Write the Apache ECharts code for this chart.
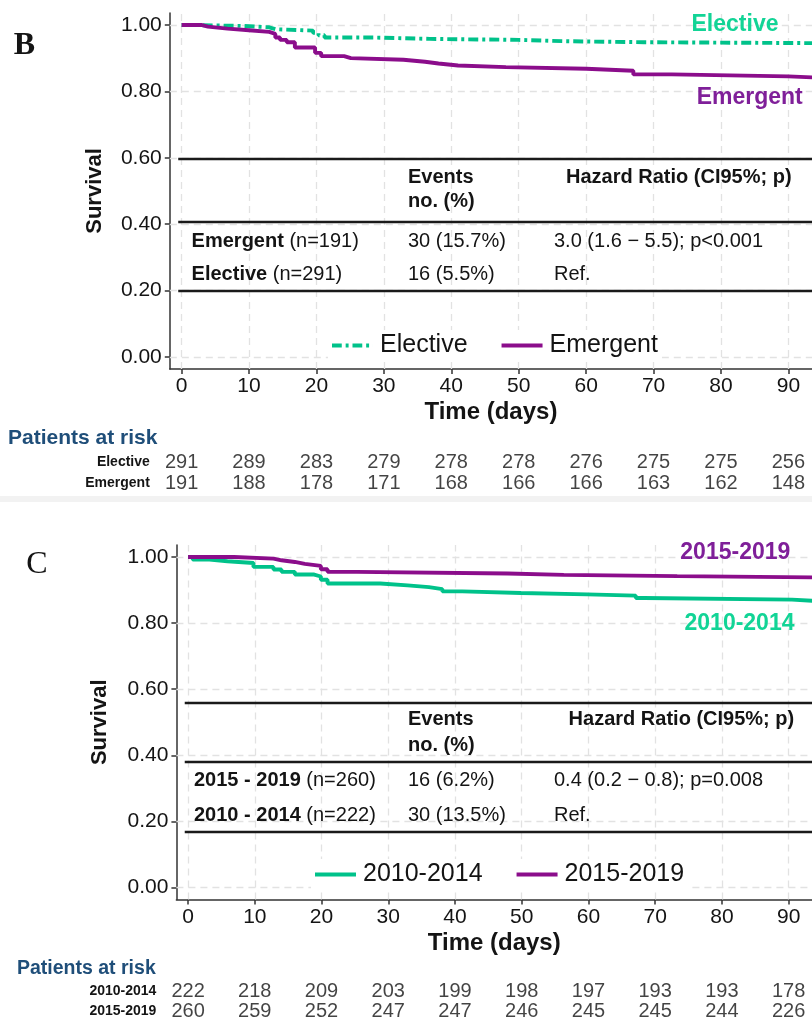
<!DOCTYPE html>
<html>
<head>
<meta charset="utf-8">
<script src="https://cdn.jsdelivr.net/npm/echarts@6/dist/echarts.min.js"></script>
<style>
html,body{margin:0;padding:0;background:#fff;}
#chart{width:812px;height:1021px;}
</style>
</head>
<body>
<div id="chart"></div>
<script>
// ---- shared axis ticks ----
const xTicks = [0, 10, 20, 30, 40, 50, 60, 70, 80, 90];
const yTicks = [0, 0.2, 0.4, 0.6, 0.8, 1.0];

// ---- Panel B: Kaplan-Meier, elective vs emergent ----
const electiveTime = [0, 1, 9, 13, 14, 19.5, 20.3, 21.2, 28.5, 36.8, 50, 57, 68.6, 96];
const electiveSurv = [1, 0.997, 0.993, 0.987, 0.983, 0.976, 0.969, 0.962, 0.958, 0.955, 0.951, 0.948, 0.945, 0.945];
const emergentTime = [0, 2.9, 3.9, 6.8, 10, 13, 13.9, 14.6, 15.6, 16.8, 19.8, 20.7, 24.1, 25.1, 32.9, 36.1, 38.1, 41, 48.1, 60, 67, 72.7, 90, 96];
const emergentSurv = [1, 0.995, 0.989, 0.984, 0.979, 0.973, 0.962, 0.955, 0.948, 0.932, 0.916, 0.906, 0.9, 0.895, 0.889, 0.884, 0.878, 0.873, 0.868, 0.862, 0.851, 0.845, 0.84, 0.84];
const riskTimes = [0, 10, 20, 30, 40, 50, 60, 70, 80, 90];
const riskElective = [291, 289, 283, 279, 278, 278, 276, 275, 275, 256];
const riskEmergent = [191, 188, 178, 171, 168, 166, 166, 163, 162, 148];

// ---- Panel C: Kaplan-Meier, 2010-2014 vs 2015-2019 ----
const earlyTime = [0, 0.7, 3.2, 5.9, 9.8, 12.8, 14, 16, 18.9, 19.9, 20.9, 28.8, 32.9, 36.1, 38.1, 41.1, 49.9, 59.8, 67.1, 68.3, 90.5, 96];
const earlySurv = [1, 0.992, 0.987, 0.982, 0.97, 0.962, 0.955, 0.947, 0.941, 0.931, 0.92, 0.914, 0.909, 0.903, 0.896, 0.891, 0.887, 0.883, 0.876, 0.871, 0.865, 0.865];
const lateTime = [0, 6.9, 12.8, 14, 16, 17.5, 19.9, 20.9, 25.3, 47.9, 56.3, 73.3, 96];
const lateSurv = [1, 0.995, 0.99, 0.985, 0.979, 0.973, 0.963, 0.955, 0.95, 0.946, 0.942, 0.938, 0.938];
const risk2010 = [222, 218, 209, 203, 199, 198, 197, 193, 193, 178];
const risk2015 = [260, 259, 252, 247, 247, 246, 245, 245, 244, 226];

// table rule heights (survival units) and left edge (days)
const tableRulesB = [0.598, 0.408, 0.198];
const tableRulesC = [0.56, 0.38, 0.168];
const tableLeft = -0.5;

const FONT = '"Liberation Sans", Arial, Helvetica, sans-serif';
const GREEN = '#00c28a';
const PURPLE = '#8b0d8b';
const GREEN_TXT = '#12d496';
const PURPLE_TXT = '#7f1f99';
const INK = '#141414';
const X_MIN = -1.75, X_MAX = 93.5, Y_MIN = -0.036, Y_MAX = 1.036;

// legend swatches: dash-dot bar and solid bar
const ICON_DASHDOT = 'path://M0 0h10v4h-10zM14 0h3v4h-3zM21 0h10v4h-10zM35 0h3v4h-3zM42 0h0.01v4h-0.01z';
const ICON_SOLID = 'path://M0 0h42v4h-42z';

const zip = (a, b) => a.map((v, i) => [v, b[i]]);

const mainGrids = [
  { left: 169.8, top: 13, width: 650.5, height: 355.9 },
  { left: 176.4, top: 545.1, width: 645.8, height: 354.3 }
];
const riskGrids = [
  { left: 169.8, top: 451.5, width: 650.5, height: 42 },
  { left: 176.4, top: 981.5, width: 645.8, height: 42 }
];
const grid = mainGrids.concat(riskGrids);

function mainX(g, gap) {
  return {
    gridIndex: g, type: 'value', min: X_MIN, max: X_MAX,
    axisLine: { show: true, onZero: false, lineStyle: { color: '#333', width: 1.5 } },
    axisTick: { show: true, customValues: xTicks, length: 5, lineStyle: { color: '#333', width: 1.5 } },
    axisLabel: { customValues: xTicks, fontSize: 21, color: INK, fontFamily: FONT, margin: 7 },
    splitLine: { show: false },
    name: 'Time (days)', nameLocation: 'middle', nameGap: gap,
    nameTextStyle: { fontSize: 24, fontWeight: 'bold', color: INK, fontFamily: FONT }
  };
}
function mainY(g, gap) {
  return {
    gridIndex: g, type: 'value', min: Y_MIN, max: Y_MAX,
    axisLine: { show: true, onZero: false, lineStyle: { color: '#333', width: 1.5 } },
    axisTick: { show: true, customValues: yTicks, length: 5, lineStyle: { color: '#333', width: 1.5 } },
    axisLabel: { customValues: yTicks, formatter: v => v.toFixed(2), fontSize: 21, color: INK, fontFamily: FONT, margin: 8 },
    splitLine: { show: false },
    name: 'Survival', nameLocation: 'middle', nameRotate: 90, nameGap: gap,
    nameTextStyle: { fontSize: 22, fontWeight: 'bold', color: INK, fontFamily: FONT }
  };
}
function riskX(g) {
  return { gridIndex: g, type: 'value', min: X_MIN, max: X_MAX, show: false };
}
function riskY(g, rows) {
  return {
    gridIndex: g, type: 'category', data: rows, inverse: true,
    axisLine: { show: false }, axisTick: { show: false }, splitLine: { show: false },
    axisLabel: { fontSize: 14, fontWeight: 'bold', color: INK, fontFamily: FONT, margin: 20 }
  };
}

function gridLines(g) {
  return {
    type: 'line', xAxisIndex: g, yAxisIndex: g, data: [], z: 1, silent: true,
    markLine: {
      silent: true, symbol: 'none', label: { show: false },
      lineStyle: { color: '#e2e2e2', type: [7, 5], width: 1.3 },
      data: xTicks.map(v => ({ xAxis: v })).concat(yTicks.map(v => ({ yAxis: v })))
    }
  };
}
function tableBg(g, rules) {
  return {
    type: 'line', xAxisIndex: g, yAxisIndex: g, data: [], z: 3, silent: true,
    markArea: {
      silent: true, itemStyle: { color: '#ffffff' },
      data: [[{ coord: [tableLeft, rules[0]] }, { coord: [X_MAX, rules[2]] }]]
    }
  };
}
function tableRules(g, rules) {
  return {
    type: 'line', xAxisIndex: g, yAxisIndex: g, data: [], z: 4, silent: true,
    markLine: {
      silent: true, symbol: 'none', label: { show: false },
      lineStyle: { color: '#1a1a1a', type: 'solid', width: 2.3 },
      data: rules.map(r => [{ coord: [tableLeft, r] }, { coord: [X_MAX, r] }])
    }
  };
}
function curve(name, g, t, s, color, dash) {
  return {
    name, type: 'line', xAxisIndex: g, yAxisIndex: g, step: 'end', z: 5,
    symbol: 'none', data: zip(t, s),
    lineStyle: { color, width: 3.9, type: dash || 'solid', cap: 'butt' },
    itemStyle: { color }
  };
}
function riskRow(g, rowName, counts) {
  return {
    type: 'scatter', xAxisIndex: g, yAxisIndex: g, symbolSize: 1,
    itemStyle: { color: 'rgba(0,0,0,0)' }, silent: true,
    data: riskTimes.map((t, i) => [t, rowName, counts[i]]),
    label: { show: true, position: 'inside', formatter: p => String(p.value[2]),
      fontSize: 20, color: INK, fontFamily: FONT }
  };
}

function txt(x, y, text, opt) {
  return {
    type: 'text', x, y, z: 50,
    style: Object.assign({ text, fontSize: 20, fontFamily: FONT, fill: INK,
      verticalAlign: 'middle', align: 'left' }, opt || {})
  };
}
const boldRich = { b: { fontWeight: 'bold', fontSize: 20, fontFamily: FONT, fill: INK } };

const graphic = [
  // panel letters
  txt(24.5, 46, 'B', { fontSize: 32, fontFamily: '"Liberation Serif", serif', align: 'center', fontWeight: 'bold' }),
  txt(37, 565, 'C', { fontSize: 32, fontFamily: '"Liberation Serif", serif', align: 'center' }),
  // curve labels
  txt(735, 25, 'Elective', { fontSize: 23, fontWeight: 'bold', fill: GREEN_TXT, align: 'center' }),
  txt(749.7, 98, 'Emergent', { fontSize: 23, fontWeight: 'bold', fill: PURPLE_TXT, align: 'center' }),
  txt(735.3, 553, '2015-2019', { fontSize: 23, fontWeight: 'bold', fill: PURPLE_TXT, align: 'center' }),
  txt(739.5, 624, '2010-2014', { fontSize: 23, fontWeight: 'bold', fill: GREEN_TXT, align: 'center' }),
  // table B
  txt(408, 177, 'Events', { fontWeight: 'bold' }),
  txt(408, 201, 'no. (%)', { fontWeight: 'bold' }),
  txt(566, 177, 'Hazard Ratio (CI95%; p)', { fontWeight: 'bold' }),
  txt(191.6, 241, '{b|Emergent} (n=191)', { rich: boldRich }),
  txt(408, 241, '30 (15.7%)'),
  txt(554, 241, '3.0 (1.6 \u2212 5.5); p<0.001'),
  txt(191.6, 274, '{b|Elective} (n=291)', { rich: boldRich }),
  txt(408, 274, '16 (5.5%)'),
  txt(554, 274, 'Ref.'),
  // table C
  txt(408, 719, 'Events', { fontWeight: 'bold' }),
  txt(408, 745, 'no. (%)', { fontWeight: 'bold' }),
  txt(568.6, 719, 'Hazard Ratio (CI95%; p)', { fontWeight: 'bold' }),
  txt(194, 780, '{b|2015 - 2019} (n=260)', { rich: boldRich }),
  txt(408, 780, '16 (6.2%)'),
  txt(554, 780, '0.4 (0.2 \u2212 0.8); p=0.008'),
  txt(194, 815, '{b|2010 - 2014} (n=222)', { rich: boldRich }),
  txt(408, 815, '30 (13.5%)'),
  txt(554, 815, 'Ref.'),
  // risk table headings
  txt(8, 438, 'Patients at risk', { fontSize: 21, fontWeight: 'bold', fill: '#1f4e79' }),
  txt(17, 969, 'Patients at risk', { fontSize: 19.5, fontWeight: 'bold', fill: '#1f4e79' }),
  // divider strip between the two figures
  { type: 'rect', shape: { x: 0, y: 496, width: 812, height: 6 }, style: { fill: '#f2f2f2' }, z: 0 }
];

const legendBase = {
  orient: 'horizontal', itemWidth: 41, itemHeight: 4, itemGap: 34, z: 20,
  backgroundColor: '#ffffff', padding: [3, 4],
  textStyle: { fontSize: 25, color: INK, fontFamily: FONT, padding: [0, 0, 0, 2] }
};

const option = {
  backgroundColor: '#ffffff',
  animation: false,
  grid,
  xAxis: [mainX(0, 31), mainX(1, 32), riskX(2), riskX(3)],
  yAxis: [mainY(0, 64), mainY(1, 65), riskY(2, ['Elective', 'Emergent']), riskY(3, ['2010-2014', '2015-2019'])],
  legend: [
    Object.assign({}, legendBase, {
      data: [{ name: 'Elective', icon: ICON_DASHDOT }, { name: 'Emergent', icon: ICON_SOLID }],
      left: 328, top: 330
    }),
    Object.assign({}, legendBase, {
      data: [{ name: '2010-2014', icon: ICON_SOLID }, { name: '2015-2019', icon: ICON_SOLID }],
      left: 311, top: 859
    })
  ],
  series: [
    gridLines(0), gridLines(1),
    tableBg(0, tableRulesB), tableBg(1, tableRulesC),
    tableRules(0, tableRulesB), tableRules(1, tableRulesC),
    curve('Elective', 0, electiveTime, electiveSurv, GREEN, [10, 4, 3, 4]),
    curve('Emergent', 0, emergentTime, emergentSurv, PURPLE),
    curve('2010-2014', 1, earlyTime, earlySurv, GREEN),
    curve('2015-2019', 1, lateTime, lateSurv, PURPLE),
    riskRow(2, 'Elective', riskElective), riskRow(2, 'Emergent', riskEmergent),
    riskRow(3, '2010-2014', risk2010), riskRow(3, '2015-2019', risk2015)
  ],
  graphic
};

const chart = echarts.init(document.getElementById('chart'), null, { renderer: 'canvas' });
chart.setOption(option);
</script>
</body>
</html>
